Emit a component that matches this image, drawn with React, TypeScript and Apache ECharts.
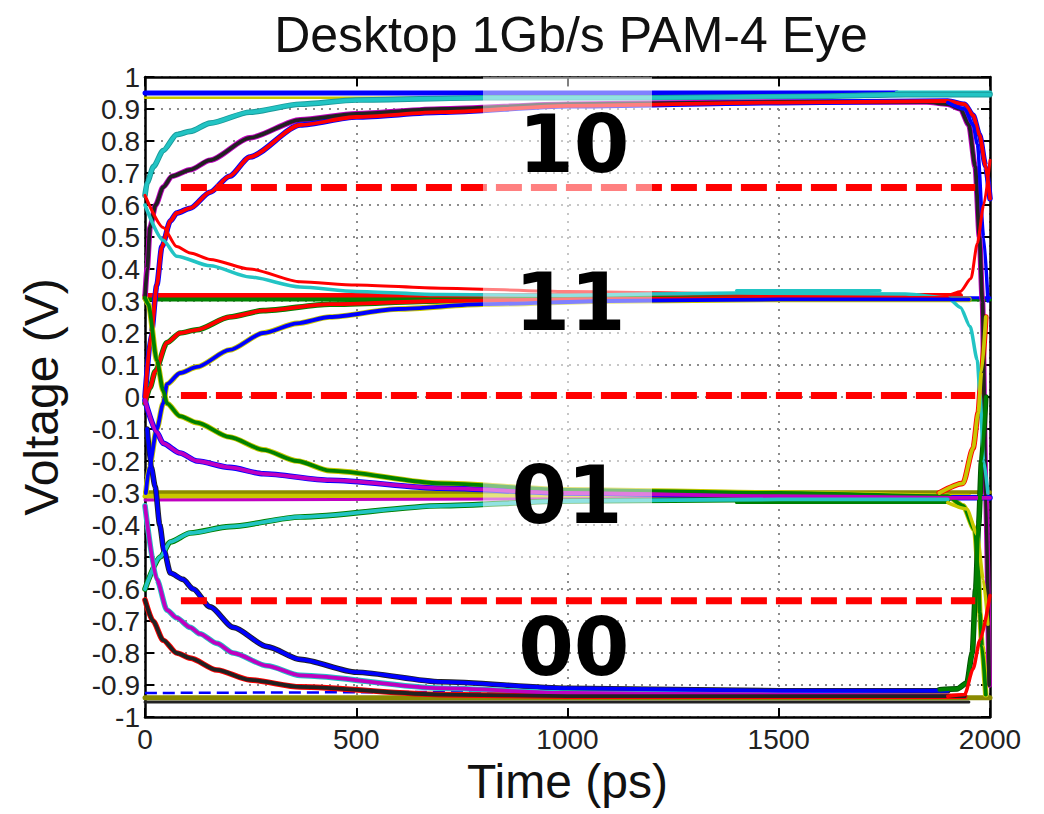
import React, { useEffect, useRef } from "react";
import * as echarts from "echarts";

// ---- axis settings ----
const X_MIN = 0, X_MAX = 2000, X_STEP = 500;
const Y_MIN = -1, Y_MAX = 1, Y_STEP = 0.1;

// ---- flat settled levels ----
const flatTopBlue: number[][] = [[0, 0.95], [1780, 0.95]];
const flatTopCyan: number[][] = [[1780, 0.95], [2000, 0.95]];
const flatTopYellow: number[][] = [[0, 0.935], [700, 0.935]];
const flat11Red: number[][] = [[0, 0.317], [1930, 0.317]];
const flat11Green: number[][] = [[0, 0.305], [2000, 0.305]];
const flat11Blue: number[][] = [[1300, 0.31], [2000, 0.31]];
const flat11Cyan: number[][] = [[1400, 0.333], [1740, 0.333]];
const flat01Olive: number[][] = [[0, -0.298], [2000, -0.298]];
const flat01Yellow: number[][] = [[0, -0.31], [1950, -0.31]];
const flat01Magenta: number[][] = [[0, -0.322], [2000, -0.315]];
const flat01Green: number[][] = [[1400, -0.33], [1900, -0.33]];
const flat00Blue: number[][] = [[0, -0.925], [1500, -0.918]];
const flat00Olive: number[][] = [[0, -0.94], [2000, -0.94]];
const flat00Black: number[][] = [[0, -0.953], [1950, -0.953]];

// ---- transition traces (time ps, voltage V) ----
const traceCyanRise: number[][] = [[0, 0.63], [5, 0.67], [20, 0.72], [43, 0.77], [75, 0.82], [107, 0.83], [154, 0.856], [248, 0.89], [367, 0.915], [500, 0.928], [800, 0.935], [1200, 0.935], [1600, 0.94], [1800, 0.945], [2000, 0.945]];
const traceBlackRise: number[][] = [[0, 0.31], [5, 0.4], [12, 0.53], [25, 0.6], [43, 0.656], [64, 0.69], [107, 0.71], [154, 0.74], [248, 0.81], [367, 0.866], [500, 0.885], [700, 0.9], [1000, 0.915], [1500, 0.922], [1850, 0.922], [1900, 0.915], [1930, 0.9], [1950, 0.85], [1965, 0.72], [1975, 0.5], [1982, 0.3], [1990, -0.3], [1998, -0.9]];
const traceRedRise: number[][] = [[0, 0.0], [15, 0.2], [28, 0.35], [40, 0.47], [60, 0.55], [75, 0.575], [107, 0.59], [154, 0.64], [200, 0.69], [248, 0.75], [367, 0.85], [500, 0.875], [700, 0.89], [1000, 0.91], [1500, 0.92], [1900, 0.925], [1940, 0.915], [1960, 0.88], [1975, 0.82], [1990, 0.72], [2000, 0.62]];
const traceBlueTopFall: number[][] = [[1900, 0.92], [1940, 0.9], [1960, 0.85], [1970, 0.79], [1985, 0.5], [1995, 0.3]];
const traceRedFall: number[][] = [[0, 0.63], [43, 0.53], [75, 0.47], [107, 0.45], [154, 0.43], [248, 0.4], [367, 0.36], [500, 0.35], [700, 0.34], [1000, 0.33], [1500, 0.32], [1900, 0.318], [1930, 0.33], [1955, 0.37], [1970, 0.48], [1985, 0.6], [2000, 0.74]];
const traceCyanFall: number[][] = [[0, 0.6], [43, 0.49], [75, 0.44], [154, 0.41], [248, 0.375], [367, 0.344], [500, 0.33], [700, 0.32], [1000, 0.318], [1400, 0.325], [1800, 0.322], [1900, 0.31], [1930, 0.28], [1953, 0.22], [1970, 0.115], [1976, 0.01], [1985, -0.2], [1995, -0.3]];
const traceRed11Rise: number[][] = [[0, -0.02], [12, 0.03], [24, 0.08], [52, 0.17], [83, 0.2], [123, 0.21], [200, 0.25], [280, 0.27], [437, 0.29], [700, 0.3], [1000, 0.305], [1500, 0.31], [1900, 0.31]];
const traceBlue11Rise: number[][] = [[2, -0.3], [10, -0.22], [28, -0.1], [43, -0.02], [52, 0.04], [83, 0.075], [123, 0.094], [200, 0.147], [280, 0.2], [360, 0.23], [437, 0.25], [600, 0.275], [800, 0.29], [1100, 0.3], [1500, 0.305], [1950, 0.305]];
const traceGreen01Fall: number[][] = [[0, 0.31], [8, 0.29], [28, 0.115], [43, 0.02], [52, -0.02], [83, -0.06], [123, -0.08], [200, -0.125], [280, -0.165], [360, -0.2], [437, -0.23], [700, -0.27], [1000, -0.29], [1500, -0.3], [1900, -0.31], [1936, -0.34], [1964, -0.415], [1972, -0.53], [1976, -0.675], [1981, -0.78], [1990, -0.93]];
const traceMagenta01Fall: number[][] = [[0, -0.01], [28, -0.11], [43, -0.145], [83, -0.175], [123, -0.2], [200, -0.22], [280, -0.24], [437, -0.26], [700, -0.285], [1000, -0.3], [1500, -0.31], [1900, -0.315], [2000, -0.315]];
const traceCyan01Rise: number[][] = [[0, -0.6], [36, -0.5], [60, -0.453], [107, -0.425], [200, -0.405], [367, -0.375], [700, -0.34], [1000, -0.325], [1500, -0.32], [1900, -0.32]];
const traceBlue00Fall: number[][] = [[5, -0.1], [15, -0.22], [24, -0.28], [35, -0.4], [45, -0.48], [60, -0.55], [90, -0.57], [114, -0.6], [154, -0.656], [209, -0.72], [289, -0.78], [367, -0.82], [500, -0.86], [700, -0.89], [1000, -0.91], [1500, -0.918], [1900, -0.918]];
const traceMagenta00Fall: number[][] = [[0, -0.34], [28, -0.57], [52, -0.666], [75, -0.69], [107, -0.72], [130, -0.74], [170, -0.77], [209, -0.8], [289, -0.84], [367, -0.87], [700, -0.91], [1000, -0.925], [1500, -0.93], [1900, -0.935]];
const traceBlack00Fall: number[][] = [[0, -0.634], [19, -0.7], [43, -0.76], [75, -0.8], [107, -0.816], [170, -0.853], [248, -0.884], [367, -0.906], [700, -0.93], [1000, -0.935], [1500, -0.935], [1940, -0.935]];
const traceYellowRightRise: number[][] = [[1880, -0.3], [1936, -0.27], [1960, -0.16], [1972, -0.05], [1980, 0.08], [1990, 0.25]];
const traceYellowRightFall: number[][] = [[1900, -0.33], [1945, -0.35], [1970, -0.43], [1984, -0.57], [1995, -0.71]];
const traceGreenRightRise: number[][] = [[1880, -0.915], [1922, -0.912], [1945, -0.894], [1958, -0.8], [1966, -0.6], [1973, -0.4], [1980, -0.2], [1990, 0.0]];
const traceRedRightRise: number[][] = [[1900, -0.935], [1940, -0.93], [1960, -0.85], [1976, -0.76], [2000, -0.62]];

// ---- decision thresholds and symbol labels ----
const thresholdTop: number[][] = [[85, 0.655], [1965, 0.655]];
const thresholdMid: number[][] = [[85, 0.005], [1965, 0.005]];
const thresholdLow: number[][] = [[85, -0.637], [1965, -0.637]];
const symbolLabels: (number | string)[][] = [
  [1015, 0.79, "10"],
  [1006, 0.294, "11"],
  [999, -0.309, "01"],
  [1015, -0.784, "00"],
];
const highlightBand = { x0: 800, x1: 1200, y0: 1, y1: -0.55 };

const C = {
  blue: "#0000ff",
  red: "#ff0000",
  green: "#008000",
  cyan: "#22c4c4",
  magenta: "#c000c0",
  yellow: "#c8c800",
  olive: "#8a8a00",
  black: "#222222",
};

function ln(data: number[][], color: string, width: number, z = 2, extra: any = {}) {
  return {
    type: "line",
    data,
    symbol: "none",
    showSymbol: false,
    silent: true,
    smooth: 0.25,
    smoothMonotone: "x",
    lineStyle: { color, width, cap: "round", join: "round" },
    z,
    ...extra,
  };
}

function pair(data: number[][], color: string, edge: string, width = 3.8) {
  return [ln(data, edge, width + 1.8, 2), ln(data, color, width, 3)];
}

export default function App() {
  const ref = useRef<HTMLDivElement>(null);
  useEffect(() => {
    if (!ref.current) return;
    const chart = echarts.init(ref.current, undefined, { renderer: "svg" });
    const labelFont = { fontFamily: "Liberation Sans, Arial, sans-serif", fontSize: 28, color: "#222" };
    const dashed = (data: number[][], z: number) => ({
      type: "line",
      data,
      symbol: "none",
      silent: true,
      lineStyle: { color: "#ff0000", width: 7, type: [26, 9] },
      z,
    });
    const series: any[] = [
      ln(flatTopBlue, C.blue, 5, 2),
      ln(flatTopCyan, C.cyan, 5, 2),
      ln(flatTopYellow, C.yellow, 2.5, 2),
      ln(flat11Red, C.red, 5, 2),
      ln(flat11Green, C.green, 4, 2),
      ln(flat11Blue, C.blue, 3, 2),
      ln(flat11Cyan, C.cyan, 3, 2),
      ln(flat01Olive, C.olive, 4, 2),
      ln(flat01Yellow, C.yellow, 5, 2),
      ln(flat01Magenta, C.magenta, 3, 2),
      ln(flat01Green, C.green, 3, 2),
      ln(flat00Black, C.black, 3, 2),
      ln(flat00Olive, C.olive, 5, 2),
      ln(flat00Blue, C.blue, 2.5, 2, { lineStyle: { color: C.blue, width: 2.5, type: [12, 6] } }),
      ...pair(traceCyanRise, C.cyan, "#1a9a9a"),
      ...pair(traceBlackRise, C.black, C.magenta),
      ...pair(traceRedRise, C.red, C.blue),
      ln(traceBlueTopFall, C.blue, 3.5, 3),
      ln(traceRedFall, C.red, 3, 3),
      ln(traceCyanFall, C.cyan, 3.5, 3),
      ...pair(traceRed11Rise, C.red, C.green),
      ...pair(traceBlue11Rise, C.blue, C.yellow),
      ...pair(traceGreen01Fall, C.green, C.yellow),
      ...pair(traceMagenta01Fall, C.magenta, C.blue),
      ...pair(traceCyan01Rise, C.cyan, C.green),
      ...pair(traceBlue00Fall, C.blue, C.black),
      ...pair(traceMagenta00Fall, C.magenta, C.cyan),
      ...pair(traceBlack00Fall, C.black, C.red),
      ...pair(traceYellowRightRise, C.yellow, C.red),
      ln(traceYellowRightFall, C.yellow, 3.5, 3),
      ...pair(traceGreenRightRise, C.green, "#005000"),
      ln(traceRedRightRise, C.red, 3.5, 3),
      dashed(thresholdTop, 4),
      {
        type: "line",
        data: [[highlightBand.x0, 0.9], [highlightBand.x1, 0.9]],
        symbol: "none",
        silent: true,
        lineStyle: { opacity: 0, width: 0 },
        z: 5,
        markArea: {
          silent: true,
          z: 5,
          itemStyle: { color: "rgba(255,255,255,0.5)" },
          data: [[
            { xAxis: highlightBand.x0, yAxis: highlightBand.y0 },
            { xAxis: highlightBand.x1, yAxis: highlightBand.y1 },
          ]],
        },
      },
      dashed(thresholdMid, 6),
      dashed(thresholdLow, 6),
      {
        type: "scatter",
        data: symbolLabels,
        symbolSize: 1,
        silent: true,
        itemStyle: { color: "rgba(0,0,0,0)", opacity: 1 },
        z: 10,
        label: {
          show: true,
          position: "inside",
          formatter: (p: any) => p.value[2],
          fontFamily: "DejaVu Sans",
          fontWeight: "bold",
          fontSize: 80,
          color: "#000",
          opacity: 1,
        },
      },
    ];

    const tickCommon = { show: true, inside: true, length: 9, lineStyle: { color: "#000", width: 2 } };
    const lineCommon = { show: true, onZero: false, lineStyle: { color: "#000", width: 2.5 } };
    const splitCommon = { show: true, lineStyle: { color: "#8c8c8c", width: 2, type: [2, 6] } };

    chart.setOption({
      animation: false,
      backgroundColor: "#fff",
      title: {
        text: "Desktop 1Gb/s PAM-4 Eye",
        left: 566,
        textAlign: "center",
        top: 5,
        textStyle: { fontFamily: "Liberation Sans, Arial, sans-serif", fontSize: 50, fontWeight: "normal", color: "#111" },
      },
      grid: { left: 145, right: 54, top: 77, bottom: 97 },
      xAxis: [
        {
          type: "value",
          min: X_MIN,
          max: X_MAX,
          interval: X_STEP,
          position: "bottom",
          name: "Time (ps)",
          nameLocation: "middle",
          nameGap: 40,
          nameTextStyle: { fontFamily: "Liberation Sans, Arial, sans-serif", fontSize: 48, color: "#111" },
          axisLine: lineCommon,
          axisTick: tickCommon,
          axisLabel: { ...labelFont, margin: 8, formatter: (v: number) => String(v) },
          splitLine: splitCommon,
        },
        {
          type: "value",
          min: X_MIN,
          max: X_MAX,
          interval: X_STEP,
          position: "top",
          axisLine: lineCommon,
          axisTick: tickCommon,
          axisLabel: { show: false },
          splitLine: { show: false },
        },
      ],
      yAxis: [
        {
          type: "value",
          min: Y_MIN,
          max: Y_MAX,
          interval: Y_STEP,
          position: "left",
          name: "Voltage (V)",
          nameLocation: "middle",
          nameGap: 80,
          nameTextStyle: { fontFamily: "Liberation Sans, Arial, sans-serif", fontSize: 48, color: "#111" },
          axisLine: lineCommon,
          axisTick: tickCommon,
          axisLabel: { ...labelFont, margin: 5, formatter: (v: number) => String(Math.round(v * 10) / 10) },
          splitLine: splitCommon,
        },
        {
          type: "value",
          min: Y_MIN,
          max: Y_MAX,
          interval: Y_STEP,
          position: "right",
          axisLine: lineCommon,
          axisTick: tickCommon,
          axisLabel: { show: false },
          splitLine: { show: false },
        },
      ],
      series: series.map((s) => ({ xAxisIndex: 0, yAxisIndex: 0, ...s })),
    });
    return () => chart.dispose();
  }, []);
  return (
    <div
      ref={ref}
      style={{ position: "fixed", left: 0, top: 0, width: 1044, height: 814, background: "#fff" }}
    />
  );
}
